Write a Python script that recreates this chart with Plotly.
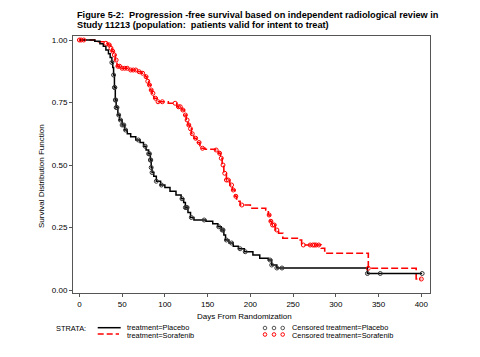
import numpy as np
import plotly.graph_objects as go

# ---------------- data ----------------
placebo_days = [0, 18, 24, 28, 31, 34, 36, 38, 39, 40,
                41, 42, 43, 45, 47, 50, 53, 56, 60, 66,
                71, 75, 78, 81, 83, 84, 85, 87, 90, 95,
                100, 106, 113, 119, 122, 124, 127, 130, 134, 148,
                156, 162, 166, 169, 171, 175, 180, 186, 193, 203,
                211, 221, 225, 231, 337, 401]
placebo_surv = [1.0, 0.995, 0.985, 0.975, 0.96, 0.945, 0.93, 0.91, 0.89, 0.86,
                0.81, 0.76, 0.73, 0.70, 0.68, 0.66, 0.64, 0.625, 0.613, 0.60,
                0.59, 0.575, 0.56, 0.545, 0.52, 0.49, 0.47, 0.455, 0.435, 0.42,
                0.41, 0.395, 0.38, 0.365, 0.35, 0.33, 0.31, 0.29, 0.28, 0.275,
                0.265, 0.253, 0.24, 0.22, 0.20, 0.188, 0.175, 0.165, 0.153, 0.14,
                0.127, 0.12, 0.10, 0.088, 0.066, 0.066]

sorafenib_days = [0, 18, 30, 34, 36, 38, 40, 42, 44, 48,
                  57, 69, 73, 77, 79, 81, 83, 85, 87, 91,
                  104, 114, 120, 123, 125, 127, 129, 131, 134, 137,
                  141, 147, 159, 163, 165, 167, 169, 172, 176, 179,
                  182, 184, 188, 200, 218, 221, 223, 225, 229, 233,
                  238, 256, 260, 283, 287, 338, 394, 400]
sorafenib_surv = [1.0, 0.993, 0.987, 0.98, 0.967, 0.955, 0.94, 0.92, 0.895, 0.887,
                  0.88, 0.873, 0.867, 0.853, 0.835, 0.82, 0.80, 0.787, 0.767, 0.753,
                  0.747, 0.733, 0.72, 0.70, 0.68, 0.66, 0.645, 0.625, 0.607, 0.59,
                  0.567, 0.563, 0.56, 0.547, 0.527, 0.50, 0.467, 0.44, 0.42, 0.40,
                  0.375, 0.355, 0.34, 0.327, 0.32, 0.30, 0.275, 0.26, 0.24, 0.227,
                  0.207, 0.20, 0.18, 0.167, 0.147, 0.087, 0.044, 0.044]

placebo_censor = [38, 40, 41, 41.5, 42, 42.5, 43, 44, 46, 48, 50, 52, 54, 69, 77,
                  81, 82, 83, 83.5, 84, 85, 90, 96, 120, 124, 125, 126, 131, 146,
                  163, 167, 168, 172, 178, 188, 194, 223, 225, 231, 237, 337, 352, 401]
sorafenib_censor = [0, 2, 5, 31, 35, 37, 39, 41, 43, 45, 47, 50, 53, 56, 60, 63, 66,
                    70, 74, 78, 80, 82, 84, 86, 89, 92, 97, 112, 116, 118, 121, 124,
                    126, 128, 130, 132, 136, 140, 144, 160, 164, 166, 168, 170, 172,
                    174, 178, 180, 183, 190, 222, 224, 226, 228, 231, 262, 270, 273,
                    275, 277, 280, 338, 400]

x_ticks = [0, 50, 100, 150, 200, 250, 300, 350, 400]
y_ticks = [0.0, 0.25, 0.5, 0.75, 1.0]

title_lines = ["Figure 5-2:  Progression -free survival based on independent radiological review in",
               "Study 11213 (population:  patients valid for intent to treat)"]


def km_at(days, surv, t):
    d = np.asarray(days, dtype=float)
    s = np.asarray(surv, dtype=float)
    idx = np.searchsorted(d, np.asarray(t, dtype=float), side="right") - 1
    idx = np.clip(idx, 0, len(s) - 1)
    return s[idx]


# ---------------- layout geometry ----------------
W, H = 480, 357
L, R, T, B = 73, 430, 36, 293   # plot area in pixels


def px(x):
    return (x - L) / (R - L)


def py(y):
    return (B - y) / (B - T)


FONT = "Liberation Sans, Arial, sans-serif"
RED = "#ff0000"
GREY = "#333333"

fig = go.Figure()

fig.add_trace(go.Scatter(x=sorafenib_days, y=sorafenib_surv, mode="lines",
                         line=dict(color=RED, width=1.6, dash="7px,3px", shape="hv"),
                         showlegend=False, hoverinfo="skip"))
fig.add_trace(go.Scatter(x=placebo_days, y=placebo_surv, mode="lines",
                         line=dict(color="black", width=1.5, shape="hv"),
                         showlegend=False, hoverinfo="skip"))
fig.add_trace(go.Scatter(x=sorafenib_censor,
                         y=km_at(sorafenib_days, sorafenib_surv, sorafenib_censor),
                         mode="markers",
                         marker=dict(symbol="circle-open", size=4, color=RED,
                                     line=dict(width=1, color=RED)),
                         showlegend=False, hoverinfo="skip"))
fig.add_trace(go.Scatter(x=placebo_censor,
                         y=km_at(placebo_days, placebo_surv, placebo_censor),
                         mode="markers",
                         marker=dict(symbol="circle-open", size=4, color=GREY,
                                     line=dict(width=1, color=GREY)),
                         showlegend=False, hoverinfo="skip"))

day_per_px = 400 / (421.3 - 79.4)
x0 = 0 - (79.4 - L) * day_per_px
x1 = 400 + (R - 421.3) * day_per_px
s_per_px = 1 / 250
y0 = 0 - (B - 290) * s_per_px
y1 = 1 + (40 - T) * s_per_px

axis_common = dict(showgrid=False, zeroline=False, showline=True, mirror=True,
                   linecolor="#555555", linewidth=1, ticks="outside", ticklen=3,
                   tickcolor="#555555", tickfont=dict(family=FONT, size=8, color="black"))

fig.update_xaxes(range=[x0, x1], tickvals=x_ticks, ticktext=[str(v) for v in x_ticks],
                 **axis_common)
fig.update_yaxes(range=[y0, y1], tickvals=y_ticks, ticktext=[f"{v:.2f}" for v in y_ticks],
                 **axis_common)

annotations = []
for i, line in enumerate(title_lines):
    annotations.append(dict(text=f"<b>{line}</b>", x=px(75), y=py(15 + 10 * i),
                            xref="paper", yref="paper", xanchor="left", yanchor="middle",
                            showarrow=False, font=dict(family=FONT, size=9.2, color="black")))
annotations.append(dict(text="Survival Distribution Function", x=px(41.5), y=py(176.5),
                        xref="paper", yref="paper", textangle=-90, xanchor="center",
                        yanchor="middle", showarrow=False,
                        font=dict(family=FONT, size=8, color="black")))
annotations.append(dict(text="Days From Randomization", x=px(244.5), y=py(316),
                        xref="paper", yref="paper", xanchor="center", yanchor="middle",
                        showarrow=False, font=dict(family=FONT, size=8, color="black")))

legend_texts = [("STRATA:", 54, 328.3),
                ("treatment=Placebo", 125, 327.8),
                ("treatment=Sorafenib", 125, 335.2),
                ("Censored treatment=Placebo", 290, 327.8),
                ("Censored treatment=Sorafenib", 290, 335.2)]
for txt, lx, ly in legend_texts:
    annotations.append(dict(text=txt, x=px(lx), y=py(ly), xref="paper", yref="paper",
                            xanchor="left", yanchor="middle", showarrow=False,
                            font=dict(family=FONT, size=7.4, color="black")))

shapes = [
    dict(type="line", xref="paper", yref="paper", x0=px(97.7), x1=px(120.7),
         y0=py(327.7), y1=py(327.7), line=dict(color="black", width=1.5)),
    dict(type="line", xref="paper", yref="paper", x0=px(97.7), x1=px(119),
         y0=py(334), y1=py(334), line=dict(color=RED, width=1.6, dash="6px,3px")),
]
for cx in (265, 274, 282.7):
    for cy, col in ((328, "#555555"), (334.5, RED)):
        shapes.append(dict(type="circle", xref="paper", yref="paper",
                           xsizemode="pixel", ysizemode="pixel",
                           xanchor=px(cx), yanchor=py(cy), x0=-1.8, x1=1.8, y0=-1.8, y1=1.8,
                           line=dict(color=col, width=1)))

fig.update_layout(width=W, height=H, margin=dict(l=L, r=W - R, t=T, b=H - B),
                  paper_bgcolor="white", plot_bgcolor="white",
                  annotations=annotations, shapes=shapes, showlegend=False)

fig.write_html("out.html", config={"displayModeBar": False},
               post_script="document.body.style.margin='0';document.body.style.padding='0';")
